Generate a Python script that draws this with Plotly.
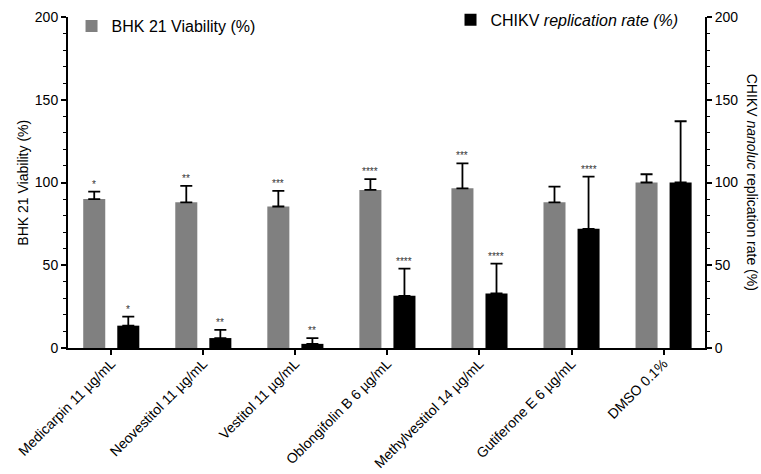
import plotly.graph_objects as go

categories = ["Medicarpin 11 µg/mL", "Neovestitol 11 µg/mL", "Vestitol 11 µg/mL",
              "Oblongifolin B 6 µg/mL", "Methylvestitol 14 µg/mL",
              "Gutiferone E 6 µg/mL", "DMSO 0.1%"]
viability = [90, 88, 85.5, 95.5, 96.5, 88, 100]
viability_err = [4.5, 10, 9.5, 6.5, 15, 9.5, 5]
viability_sig = ["*", "**", "***", "****", "***", "", ""]
chikv = [13.5, 6, 2.5, 31.5, 33, 72, 100]
chikv_err = [5.5, 5, 3.5, 16.5, 18, 31.5, 37]
chikv_sig = ["*", "**", "**", "****", "****", "****", ""]

FONT = "Liberation Sans, Arial, sans-serif"

fig = go.Figure()
fig.add_trace(go.Bar(
    x=categories, y=viability, name="BHK 21 Viability (%)",
    marker=dict(color="#808080", line=dict(width=0)),
    error_y=dict(type="data", symmetric=False, array=viability_err,
                 arrayminus=[0] * len(viability_err), color="black",
                 thickness=1.8, width=6),
    legend="legend", offsetgroup="a"))
fig.add_trace(go.Bar(
    x=categories, y=chikv, name="CHIKV <i>replication rate (%)</i>",
    marker=dict(color="#000000", line=dict(width=0)),
    error_y=dict(type="data", symmetric=False, array=chikv_err,
                 arrayminus=[0] * len(chikv_err), color="black",
                 thickness=1.8, width=6),
    legend="legend2", offsetgroup="b"))

annotations = []
for i, c in enumerate(categories):
    if viability_sig[i]:
        annotations.append(dict(x=c, y=viability[i] + viability_err[i], xref="x", yref="y",
                                text=viability_sig[i], showarrow=False, xshift=-17,
                                yanchor="bottom", yshift=0,
                                font=dict(size=10, color="#333333", family=FONT)))
    if chikv_sig[i]:
        annotations.append(dict(x=c, y=chikv[i] + chikv_err[i], xref="x", yref="y",
                                text=chikv_sig[i], showarrow=False, xshift=17,
                                yanchor="bottom", yshift=0,
                                font=dict(size=10, color="#333333", family=FONT)))
annotations.append(dict(x=1.075, xref="paper", xanchor="center",
                        y=0.5, yref="paper", yanchor="middle",
                        text="CHIKV <i>nanoluc</i> replication rate (%)",
                        textangle=90, showarrow=False,
                        font=dict(size=14, color="black", family=FONT)))
annotations.append(dict(x=-0.072, xref="paper", xanchor="center",
                        y=0.5, yref="paper", yanchor="middle",
                        text="BHK 21 Viability (%)",
                        textangle=-90, showarrow=False,
                        font=dict(size=14, color="black", family=FONT)))

axis_common = dict(range=[0, 200], tickvals=[0, 50, 100, 150, 200],
                   ticks="outside", ticklen=5, tickwidth=1.5, tickcolor="black",
                   showline=True, linecolor="black", linewidth=2,
                   showgrid=False, zeroline=False,
                   tickfont=dict(size=14, color="black", family=FONT),
                   minor=dict(dtick=10, ticks="outside", ticklen=3, tickwidth=1.2,
                              tickcolor="black", showgrid=False))

fig.update_layout(
    width=761, height=474,
    margin=dict(l=68, r=56, t=17, b=126, autoexpand=False),
    plot_bgcolor="white", paper_bgcolor="white",
    barmode="group", bargap=0.26, bargroupgap=0.353,
    font=dict(family=FONT, color="black"),
    xaxis=dict(range=[-0.47, 6.45], tickangle=-45, ticks="outside", ticklen=5,
               tickwidth=1.5, tickcolor="black", showline=True, linecolor="black",
               linewidth=2, showgrid=False, ticklabelstandoff=-5,
               tickfont=dict(size=14, color="black", family=FONT)),
    yaxis=dict(**axis_common),
    yaxis2=dict(**axis_common, overlaying="y", side="right", anchor="x"),
    legend=dict(xref="container", yref="container", x=0.094, y=0.981,
                xanchor="left", yanchor="top",
                bgcolor="rgba(0,0,0,0)", font=dict(size=16, family=FONT)),
    legend2=dict(xref="container", yref="container", x=0.592, y=0.994,
                 xanchor="left", yanchor="top",
                 bgcolor="rgba(0,0,0,0)", font=dict(size=16, family=FONT)),
    annotations=annotations,
)
# invisible trace to activate the right axis
fig.add_trace(go.Scatter(x=[categories[0]], y=[None], yaxis="y2", showlegend=False,
                         hoverinfo="skip"))

fig.write_html("out.html", config={"displayModeBar": False},
               post_script="document.body.style.margin='0';")
